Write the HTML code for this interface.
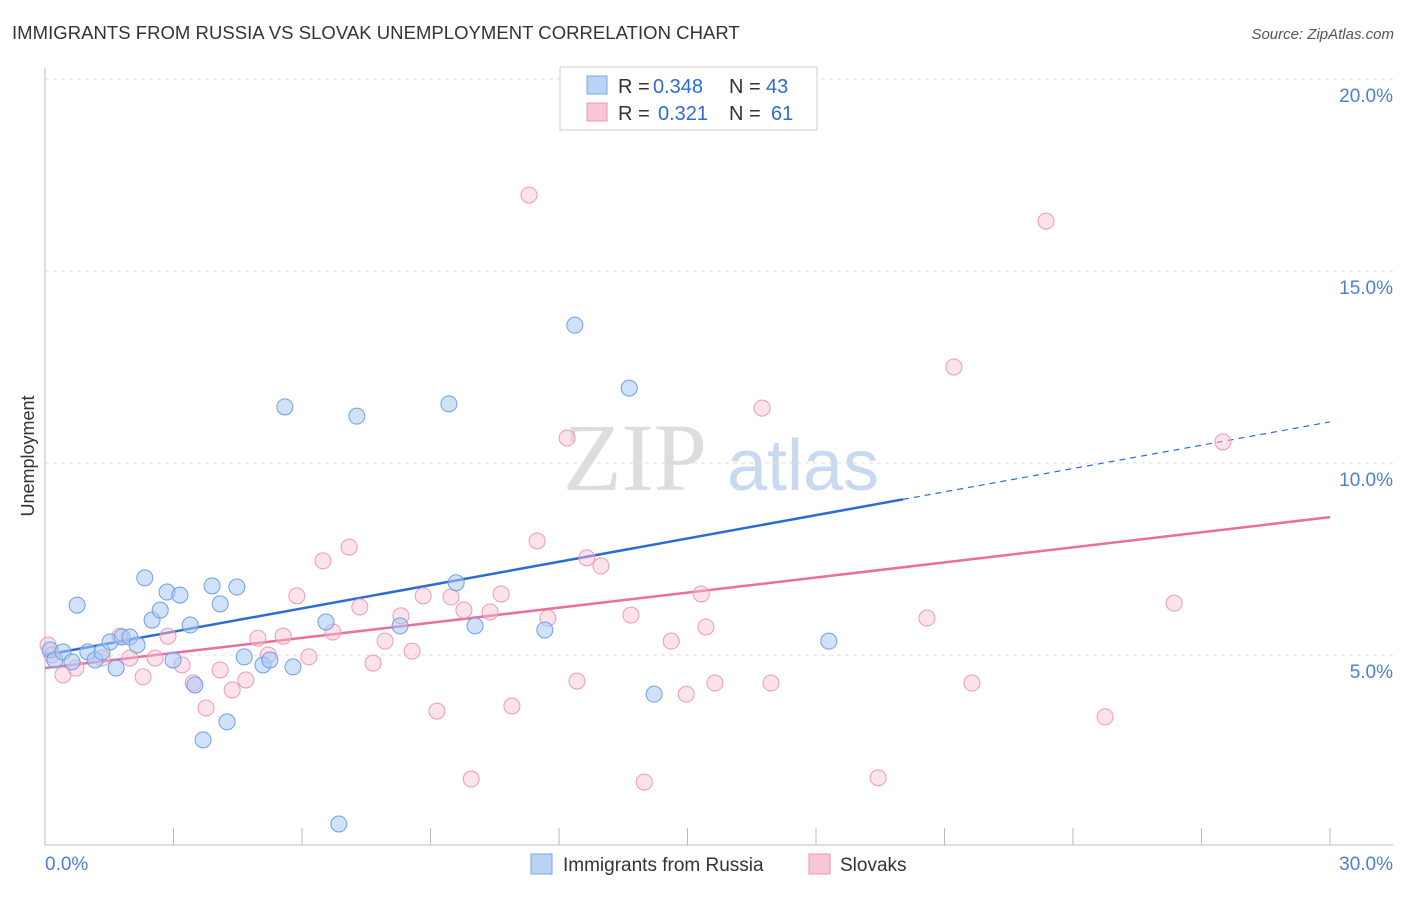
<!DOCTYPE html>
<html><head><meta charset="utf-8"><style>
body{margin:0;background:#fff;font-family:"Liberation Sans",sans-serif;}
</style></head><body>
<svg width="1406" height="892" xmlns="http://www.w3.org/2000/svg" id="chart">
<text x="12" y="39" font-size="18.5" fill="#333" textLength="728" style="letter-spacing:0.3px">IMMIGRANTS FROM RUSSIA VS SLOVAK UNEMPLOYMENT CORRELATION CHART</text>
<text x="1394" y="39" font-size="15" fill="#555" font-style="italic" text-anchor="end">Source: ZipAtlas.com</text>
<text x="34" y="456" font-size="18" fill="#333" transform="rotate(-90 34 456)" text-anchor="middle">Unemployment</text>
<g><text x="635" y="490" font-size="96" fill="#ddd" font-family="Liberation Serif" text-anchor="middle">ZIP</text><text x="803" y="490" font-size="72" fill="#c9d9f0" text-anchor="middle">atlas</text></g>
<g id="grid"></g><g id="axes"></g><g id="lines"></g><g id="pts"></g>
<g>
<rect x="560" y="67" width="257" height="63" fill="#fff" stroke="#ccc"/>
<rect x="587" y="76" width="20" height="18" fill="#b9d3f5" stroke="#7aa7e0"/>
<rect x="587" y="103" width="20" height="18" fill="#f8c6d6" stroke="#ec9ab5"/>
<g font-size="20" fill="#333">
<text x="618" y="93">R =</text><text x="653" y="93" fill="#2b6cd4">0.348</text><text x="729" y="93">N =</text><text x="766" y="93" fill="#2b6cd4">43</text>
<text x="618" y="120">R =</text><text x="658" y="120" fill="#2b6cd4">0.321</text><text x="729" y="120">N =</text><text x="771" y="120" fill="#2b6cd4">61</text>
</g>
</g>
<g>
<rect x="531" y="854" width="21" height="20" fill="#b9d3f5" stroke="#7aa7e0"/>
<text x="563" y="871" font-size="19" fill="#333">Immigrants from Russia</text>
<rect x="809" y="854" width="21" height="20" fill="#f8c6d6" stroke="#ec9ab5"/>
<text x="840" y="871" font-size="19" fill="#333">Slovaks</text>
</g>
</svg>
<script>
const yTicks=[5,10,15,20];
const yTickLabels=["5.0%","10.0%","15.0%","20.0%"];
const xTickLabels=["0.0%","30.0%"];
const russiaX=[0.12,0.23,0.42,0.63,0.75,1.00,1.17,1.33,1.52,1.66,1.80,1.98,2.15,2.33,2.50,2.69,2.85,2.99,3.15,3.39,3.50,3.69,3.90,4.09,4.25,4.48,4.65,5.09,5.25,5.60,5.79,6.56,6.86,7.28,8.29,9.43,9.60,10.04,11.67,12.37,13.64,14.22,18.30];
const russiaY=[5.13,4.87,5.08,4.82,6.30,5.08,4.87,5.08,5.34,4.66,5.47,5.47,5.26,7.01,5.91,6.17,6.64,4.87,6.56,5.78,4.22,2.79,6.80,6.33,3.26,6.77,4.95,4.74,4.87,11.46,4.69,5.86,0.60,11.22,5.76,11.54,6.88,5.76,5.65,13.59,11.95,3.98,5.36];
const slovakX=[0.07,0.16,0.42,0.72,1.33,1.75,1.98,2.29,2.57,2.87,3.20,3.46,3.76,4.09,4.37,4.69,4.97,5.21,5.56,5.88,6.16,6.49,6.72,7.10,7.35,7.66,7.94,8.31,8.57,8.83,9.15,9.48,9.78,9.95,10.39,10.65,10.90,11.30,11.49,11.74,12.19,12.42,12.65,12.98,13.68,13.99,14.62,14.97,15.32,15.43,15.64,16.74,16.95,19.45,20.59,21.22,21.64,23.37,24.75,26.36,27.50];
const slovakY=[5.26,5.00,4.48,4.66,4.92,5.49,4.92,4.43,4.92,5.49,4.74,4.27,3.62,4.61,4.09,4.35,5.44,5.00,5.49,6.54,4.95,7.45,5.60,7.81,6.25,4.79,5.36,6.02,5.10,6.54,3.54,6.51,6.17,1.77,6.12,6.59,3.67,16.98,7.97,5.96,10.65,4.32,7.53,7.32,6.04,1.69,5.36,3.98,6.59,5.73,4.27,11.43,4.27,1.80,5.96,12.50,4.27,16.30,3.39,6.35,10.55];
const russiaTrend=[5.0,11.07];
const slovakTrend=[4.66,8.59];
const NS="http://www.w3.org/2000/svg";
const X=v=>45+v*1285/30, Y=v=>847-v*38.4;
function mk(t,a,p){const e=document.createElementNS(NS,t);for(const k in a)e.setAttribute(k,a[k]);document.getElementById(p).appendChild(e);return e;}
yTicks.forEach((t,i)=>{
 const g=mk('line',{x1:45,x2:1393,y1:Y(t),y2:Y(t),stroke:'#ddd','stroke-dasharray':'4 4'},'grid');
 
 
 const l=mk('text',{x:1393,y:Y(t)+23,'font-size':19,fill:'#4a7fd4','text-anchor':'end'},'axes');l.textContent=yTickLabels[i];
 
 
});
mk('line',{x1:45,x2:1393,y1:79,y2:79,stroke:'#ddd','stroke-dasharray':'4 4'},'grid');
const xa=mk('line',{x1:45,x2:1393,y1:845,y2:845,stroke:'#bbb'},'axes');


mk('line',{x1:45,x2:45,y1:68,y2:845,stroke:'#bbb'},'axes');
for(let i=0;i<=10;i++){mk('line',{x1:X(i*3),x2:X(i*3),y1:828,y2:845,stroke:'#bbb'},'axes');}
[[0,'start',45],[30,'end',1393]].forEach((d,i)=>{const t=mk('text',{x:d[2],y:870,'font-size':19,fill:'#4a7fd4','text-anchor':d[1]},'axes');t.textContent=xTickLabels[i];
 
 });
const rs=russiaTrend, xm=20.03, ym=rs[0]+(rs[1]-rs[0])*xm/30;
const l1=mk('line',{x1:X(0),y1:Y(rs[0]),x2:X(xm),y2:Y(ym),stroke:'#2b6cd4','stroke-width':2.5},'lines');


mk('line',{x1:X(xm),y1:Y(ym),x2:X(30),y2:Y(rs[1]),stroke:'#2b6cd4','stroke-width':1.2,'stroke-dasharray':'6 5'},'lines');
const l2=mk('line',{x1:X(0),y1:Y(slovakTrend[0]),x2:X(30),y2:Y(slovakTrend[1]),stroke:'#e8709a','stroke-width':2.5},'lines');


slovakX.forEach((x,i)=>{const c=mk('circle',{cx:X(x),cy:Y(slovakY[i]),r:8,fill:'rgba(248,190,210,0.45)',stroke:'#ec9ab5','stroke-width':1},'pts');
 
 });
russiaX.forEach((x,i)=>{const c=mk('circle',{cx:X(x),cy:Y(russiaY[i]),r:8,fill:'rgba(170,200,245,0.55)',stroke:'#6f9fe0','stroke-width':1},'pts');
 
 });
</script>
</body></html>
